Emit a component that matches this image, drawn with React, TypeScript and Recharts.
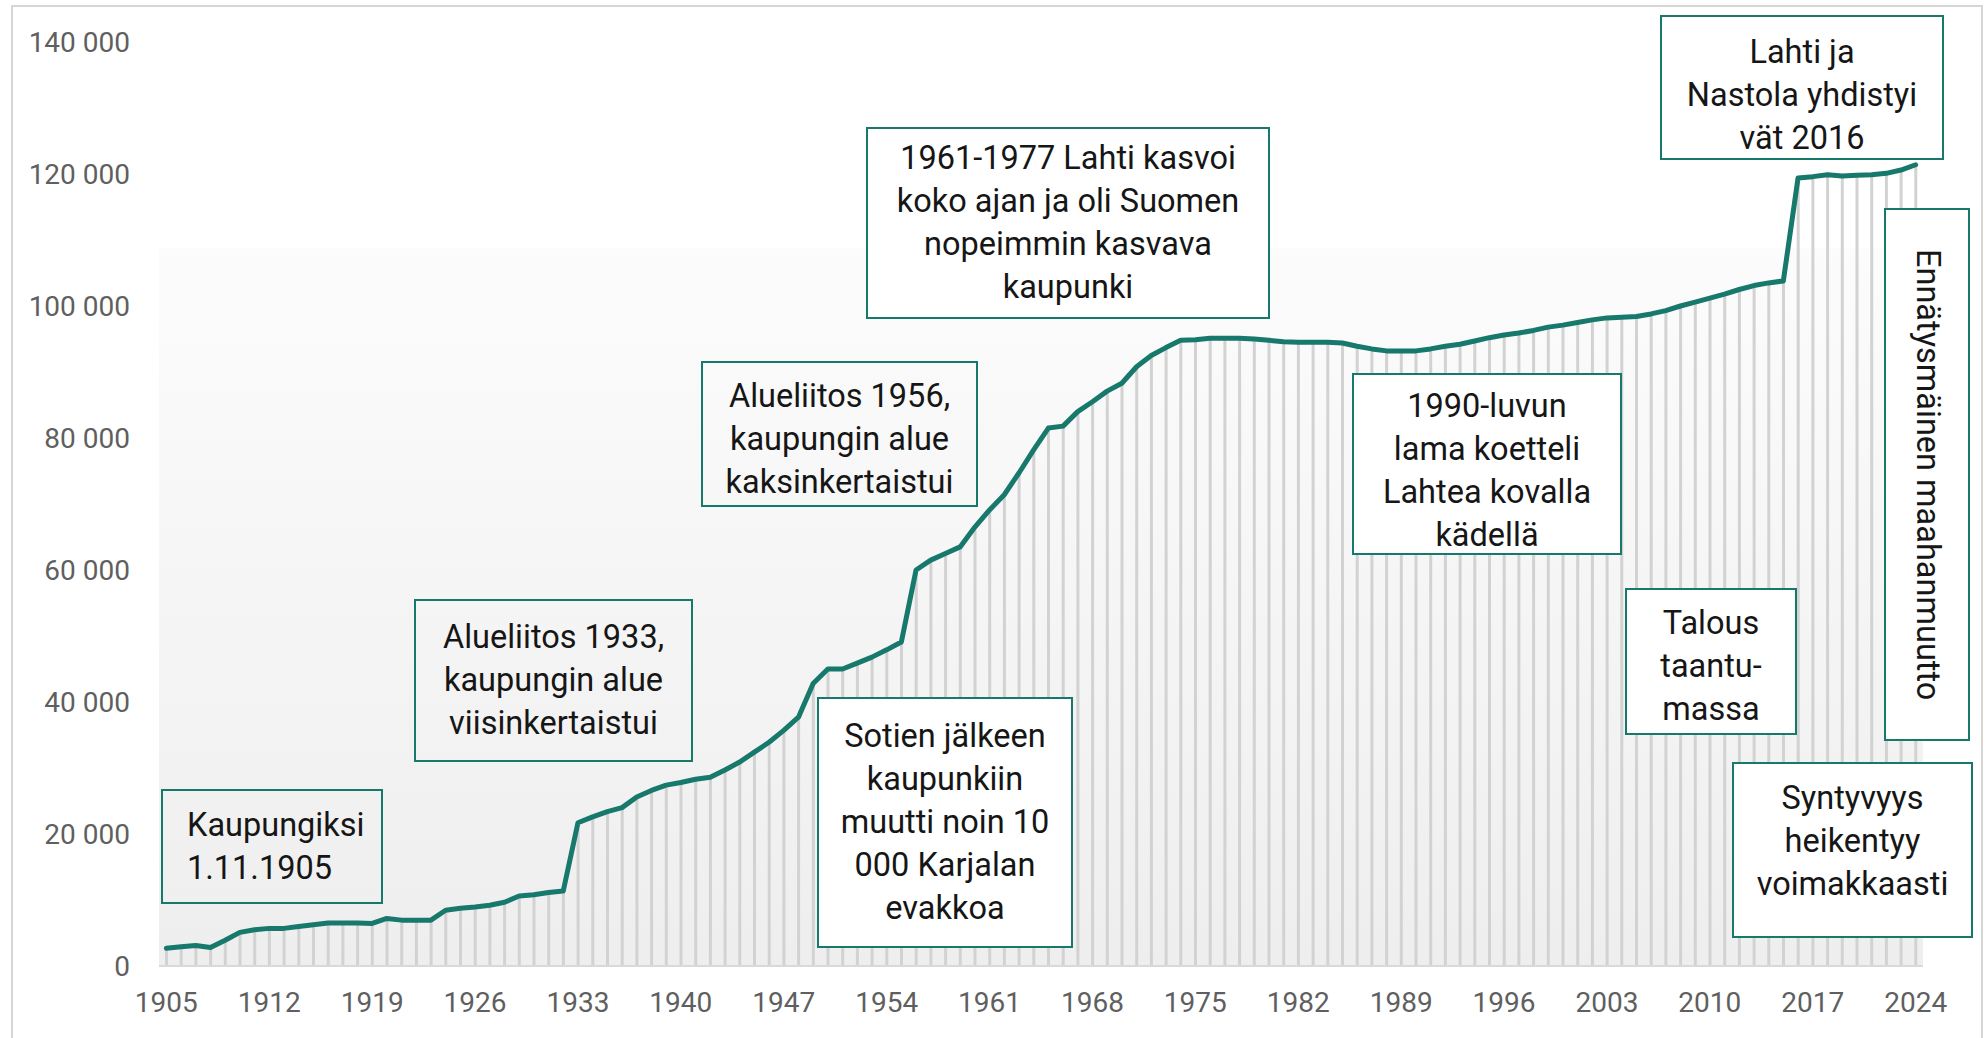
import React from 'react';
import { ComposedChart, Bar, Line, XAxis, YAxis, ReferenceArea } from 'recharts';

const years = [
  1905, 1906, 1907, 1908, 1909, 1910, 1911, 1912, 1913, 1914,
  1915, 1916, 1917, 1918, 1919, 1920, 1921, 1922, 1923, 1924,
  1925, 1926, 1927, 1928, 1929, 1930, 1931, 1932, 1933, 1934,
  1935, 1936, 1937, 1938, 1939, 1940, 1941, 1942, 1943, 1944,
  1945, 1946, 1947, 1948, 1949, 1950, 1951, 1952, 1953, 1954,
  1955, 1956, 1957, 1958, 1959, 1960, 1961, 1962, 1963, 1964,
  1965, 1966, 1967, 1968, 1969, 1970, 1971, 1972, 1973, 1974,
  1975, 1976, 1977, 1978, 1979, 1980, 1981, 1982, 1983, 1984,
  1985, 1986, 1987, 1988, 1989, 1990, 1991, 1992, 1993, 1994,
  1995, 1996, 1997, 1998, 1999, 2000, 2001, 2002, 2003, 2004,
  2005, 2006, 2007, 2008, 2009, 2010, 2011, 2012, 2013, 2014,
  2015, 2016, 2017, 2018, 2019, 2020, 2021, 2022, 2023, 2024,
];

const population = [
  2700, 2900, 3100, 2800, 3900, 5100, 5500, 5700, 5700, 6000,
  6250, 6500, 6500, 6500, 6450, 7200, 6950, 6950, 6950, 8450,
  8750, 8950, 9200, 9650, 10600, 10800, 11150, 11350, 21700, 22600,
  23400, 24000, 25600, 26600, 27400, 27800, 28300, 28600, 29700, 30900,
  32400, 33900, 35700, 37700, 42800, 45000, 45000, 45900, 46800, 47900,
  49100, 60000, 61500, 62500, 63500, 66500, 69100, 71400, 74700, 78200,
  81500, 81800, 84000, 85500, 87100, 88300, 90800, 92500, 93700, 94800,
  94900, 95100, 95100, 95100, 95000, 94800, 94600, 94500, 94500, 94500,
  94400, 93900, 93500, 93200, 93200, 93200, 93500, 93900, 94200, 94700,
  95200, 95600, 95900, 96300, 96800, 97100, 97500, 97900, 98200, 98300,
  98400, 98800, 99300, 100000, 100600, 101200, 101800, 102500, 103100, 103500,
  103800, 119400, 119600, 119900, 119700, 119800, 119900, 120100, 120600, 121400,
];

const yTicks = [0, 20000, 40000, 60000, 80000, 100000, 120000, 140000];
const backgroundTop = 108800;

const annotationTexts = [
  ['Kaupungiksi', '1.11.1905'],
  ['Alueliitos 1933,', 'kaupungin alue', 'viisinkertaistui'],
  ['Alueliitos 1956,', 'kaupungin alue', 'kaksinkertaistui'],
  ['1961-1977 Lahti kasvoi', 'koko ajan ja oli Suomen', 'nopeimmin kasvava', 'kaupunki'],
  ['Sotien jälkeen', 'kaupunkiin', 'muutti noin 10', '000 Karjalan', 'evakkoa'],
  ['1990-luvun', 'lama koetteli', 'Lahtea kovalla', 'kädellä'],
  ['Talous', 'taantu-', 'massa'],
  ['Syntyvyys', 'heikentyy', 'voimakkaasti'],
  ['Lahti ja', 'Nastola yhdistyi', 'vät 2016'],
  ['Ennätysmäinen maahanmuutto'],
];

const boxLayout = [
  { left: 161, top: 789, width: 222, height: 115, fill: 'transparent', align: 'left', pl: 24, pt: 0, pb: 0, vertical: false },
  { left: 414, top: 599, width: 279, height: 163, fill: 'transparent', align: 'center', pl: 0, pt: 0, pb: 0, vertical: false },
  { left: 701, top: 361, width: 277, height: 146, fill: 'transparent', align: 'center', pl: 0, pt: 10, pb: 0, vertical: false },
  { left: 866, top: 127, width: 404, height: 192, fill: '#ffffff', align: 'center', pl: 0, pt: 0, pb: 0, vertical: false },
  { left: 817, top: 697, width: 256, height: 251, fill: '#ffffff', align: 'center', pl: 0, pt: 0, pb: 0, vertical: false },
  { left: 1352, top: 373, width: 270, height: 182, fill: '#ffffff', align: 'center', pl: 0, pt: 14, pb: 0, vertical: false },
  { left: 1625, top: 588, width: 172, height: 147, fill: '#ffffff', align: 'center', pl: 0, pt: 10, pb: 0, vertical: false },
  { left: 1732, top: 762, width: 241, height: 176, fill: '#ffffff', align: 'center', pl: 0, pt: 0, pb: 18, vertical: false },
  { left: 1660, top: 15, width: 284, height: 145, fill: '#ffffff', align: 'center', pl: 0, pt: 15, pb: 0, vertical: false },
  { left: 1884, top: 208, width: 86, height: 533, fill: '#ffffff', align: 'center', pl: 0, pt: 0, pb: 0, vertical: true },
];

const data = years.map((y, i) => ({ year: String(y), pop: population[i] }));

const TEAL = '#17786c';
const fmt = (v: number) => String(v).replace(/\B(?=(\d{3})+(?!\d))/g, ' ');

export default function App() {
  return (
    <div style={{ position: 'relative', width: 1987, height: 1038, overflow: 'hidden', background: '#ffffff', fontFamily: 'Roboto, sans-serif' }}>
      <style>{`html,body{margin:0;padding:0;overflow:hidden;background:#fff}`}</style>
      <div style={{ position: 'absolute', left: 11, top: 5, width: 1972, height: 1060, border: '2px solid #d6d6d6', boxSizing: 'border-box' }} />
      <div style={{ position: 'absolute', left: 0, top: 0 }}>
        <ComposedChart width={1987} height={1038} data={data} margin={{ top: 42, right: 64, bottom: 0, left: 0 }} barCategoryGap={0}>
          <defs>
            <linearGradient id="bgGrad" x1="0" y1="0" x2="0" y2="1">
              <stop offset="0%" stopColor="#fcfcfc" />
              <stop offset="100%" stopColor="#eeeeee" />
            </linearGradient>
          </defs>
          <ReferenceArea y1={0} y2={backgroundTop} fill="url(#bgGrad)" fillOpacity={1} stroke="none" ifOverflow="visible" />
          <XAxis
            dataKey="year"
            interval={6}
            height={72}
            tickSize={0}
            tickMargin={26}
            tickLine={false}
            axisLine={{ stroke: '#d9d9d9', strokeWidth: 2 }}
            tick={{ fill: '#5f5f5f', fontSize: 28, fontFamily: 'Roboto' }}
          />
          <YAxis
            domain={[0, 140000]}
            ticks={yTicks}
            width={159}
            tickSize={0}
            tickMargin={29}
            tickLine={false}
            axisLine={false}
            tickFormatter={fmt}
            tick={{ fill: '#5f5f5f', fontSize: 28, fontFamily: 'Roboto' }}
          />
          <Bar dataKey="pop" barSize={3} fill="#d2d2d2" isAnimationActive={false} />
          <Line type="linear" dataKey="pop" stroke={TEAL} strokeWidth={5} dot={false} activeDot={false} strokeLinejoin="round" strokeLinecap="round" isAnimationActive={false} />
        </ComposedChart>
      </div>
      {boxLayout.map((b, i) => (
        <div
          key={i}
          style={{
            position: 'absolute',
            left: b.left,
            top: b.top,
            width: b.width,
            height: b.height,
            background: b.fill,
            border: `2.5px solid ${TEAL}`,
            boxSizing: 'border-box',
            display: 'flex',
            flexDirection: 'column',
            justifyContent: 'center',
            alignItems: b.align === 'left' ? 'flex-start' : 'center',
            paddingLeft: b.pl,
            paddingTop: b.pt,
            paddingBottom: b.pb,
            fontFamily: 'Roboto, sans-serif',
            fontSize: 32.5,
            lineHeight: '43px',
            color: '#161616',
            textAlign: b.align === 'left' ? 'left' : 'center',
            whiteSpace: 'nowrap',
          }}
        >
          {b.vertical ? (
            <div style={{ writingMode: 'vertical-rl' }}>{annotationTexts[i][0]}</div>
          ) : (
            annotationTexts[i].map((t, j) => <div key={j}>{t}</div>)
          )}
        </div>
      ))}
    </div>
  );
}
